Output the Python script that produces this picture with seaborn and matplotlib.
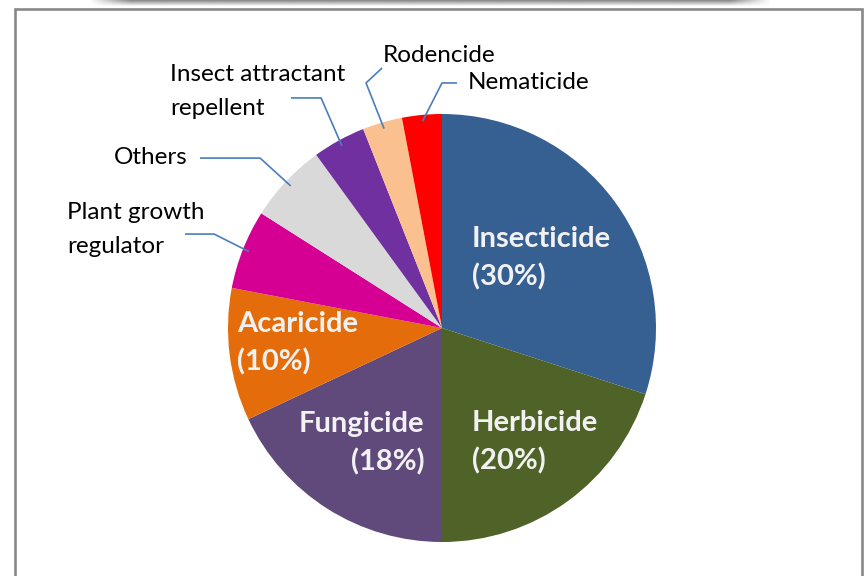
import numpy as np
import matplotlib
matplotlib.use("Agg")
import matplotlib.pyplot as plt
import matplotlib.patches as mpatches
import seaborn as sns

# ---------------- data ----------------
categories = ["Insecticide", "Herbicide", "Fungicide", "Acaricide",
              "Plant growth\nregulator", "Others", "Insect attractant\nrepellent",
              "Rodencide", "Nematicide"]
shares = [30, 20, 18, 10, 6, 6, 4, 3, 3]
slice_colors = ["#376092", "#4F6228", "#604A7B", "#E46C0A", "#D50093",
                "#D9D9D9", "#7030A0", "#FAC090", "#FF0000"]
inside_labels = [True, True, True, True, False, False, False, False, False]

# ---------------- layout (radius units) ----------------
inside_pos = {"Insecticide": (0.140, 0.327, "left"),
              "Herbicide": (0.140, -0.533, "left"),
              "Fungicide": (-0.082, -0.537, "right"),
              "Acaricide": (-0.958, -0.070, "left")}
outside_layout = {  # elbow, end, text position
    "Plant growth\nregulator": ((-1.065, 0.439), (-1.201, 0.439), (-1.752, 0.460)),
    "Others": ((-0.850, 0.794), (-1.131, 0.794), (-1.533, 0.799)),
    "Insect attractant\nrepellent": ((-0.565, 1.075), (-0.706, 1.075), (-1.271, 1.105)),
    "Rodencide": ((-0.355, 1.145), (-0.280, 1.215), (-0.276, 1.272)),
    "Nematicide": ((0.0, 1.145), (0.070, 1.145), (0.121, 1.145)),
}

sns.set_theme(style="white")
plt.rcParams["font.family"] = ["Lato", "DejaVu Sans"]

W, H = 866, 576
fig = plt.figure(figsize=(W / 100, H / 100), dpi=100)
fig.patch.set_facecolor("white")

# outer frame
frame = mpatches.Rectangle((15 / W, -0.05), (862 - 15) / W, 1 - 9 / H + 0.05,
                           transform=fig.transFigure, fill=False,
                           edgecolor="#888888", linewidth=1.9, clip_on=False)
fig.patches.append(frame)

# shadow bar at the top
sax = fig.add_axes([88 / W, 1 - 6 / H, (772 - 88) / W, 6 / H])
grad = np.linspace(0.55, 0.95, 6)[:, None] * np.ones((1, 200))
edge = np.minimum(1, np.minimum(np.arange(200), np.arange(200)[::-1]) / 12.0)
img = 1 - (1 - grad) * edge[None, :]
sax.imshow(img, cmap="gray", vmin=0, vmax=1, aspect="auto", interpolation="bilinear")
sax.axis("off")

# pie axes: center (442, 328) px, radius 214 px
cx, cy, R = 442, 328, 214
ax = fig.add_axes([(cx - R) / W, (H - cy - R) / H, 2 * R / W, 2 * R / H])
wedges, _ = ax.pie(shares, colors=sns.color_palette(slice_colors), startangle=90,
                   counterclock=False, radius=1.0,
                   wedgeprops=dict(linewidth=0, edgecolor="none"))
ax.set_xlim(-1, 1)
ax.set_ylim(-1, 1)
ax.axis("off")

for w, name, v, inside in zip(wedges, categories, shares, inside_labels):
    if inside:
        x, y, ha = inside_pos[name]
        ax.text(x, y, f"{name}\n({v}%)", ha=ha, va="center", multialignment=ha,
                color="#F2F2F2", fontsize=21, fontweight="bold", linespacing=1.52)
    else:
        mid = np.deg2rad((w.theta1 + w.theta2) / 2)
        ax0 = 0.97 * np.cos(mid)
        ay0 = 0.97 * np.sin(mid)
        elbow, end, tpos = outside_layout[name]
        ax.plot([ax0, elbow[0], end[0]], [ay0, elbow[1], end[1]],
                color="#4A7EBB", lw=1.2, clip_on=False, solid_capstyle="butt")
        ax.text(tpos[0], tpos[1], name, ha="left", va="center",
                color="#000000", fontsize=17.5, linespacing=1.75)

fig.savefig("out.png", dpi=100, facecolor="white")
